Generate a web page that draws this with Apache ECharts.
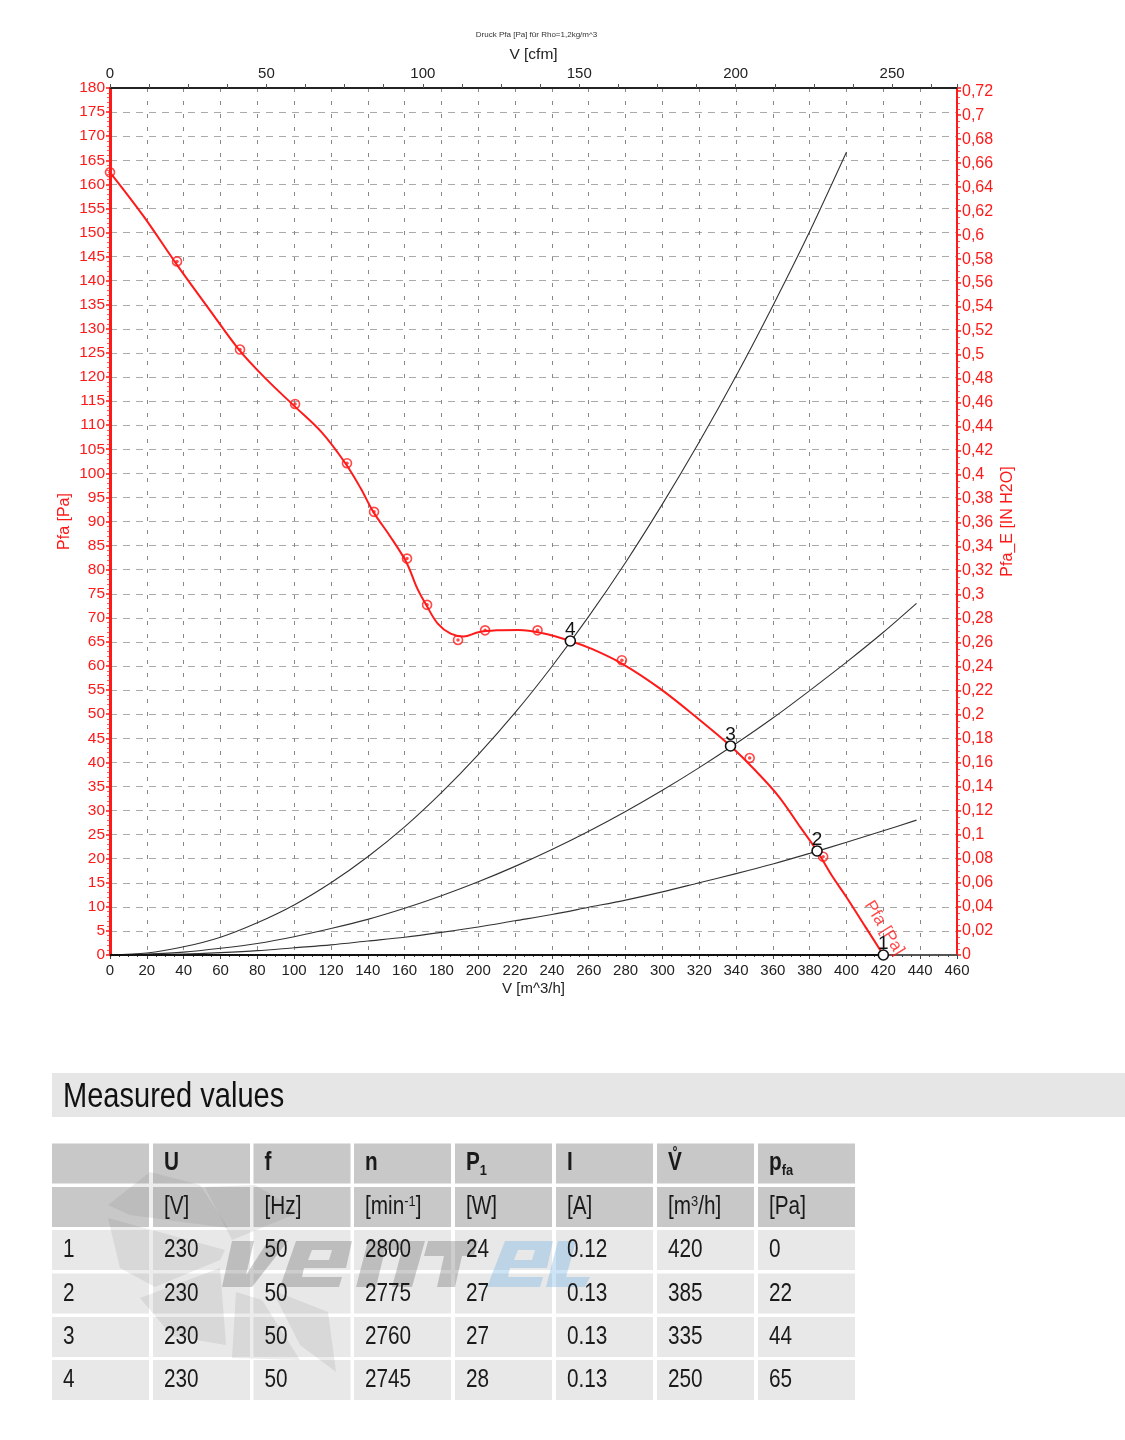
<!DOCTYPE html>
<html>
<head>
<meta charset="utf-8">
<title>Measured values</title>
<script src="https://cdn.jsdelivr.net/npm/echarts@6/dist/echarts.min.js"></script>
<style>
html, body { margin: 0; padding: 0; background: #fff; }
#main { width: 1125px; height: 1440px; }
</style>
</head>
<body>
<div id="main"></div>
<script>
// fan curve (V in m^3/h, Pfa in Pa)
const pfaCurve = [
  [0,162.5],[18,153.5],[36,143.5],[54,134],[70,125.7],[85,119.5],[100,114],[115,108.5],[128,102],
  [136,97],[143,92],[152,87],[161,81.5],[167,76],[172,72.5],[178,68.8],[185,66.7],[192,66.1],
  [200,67],[210,67.4],[222,67.5],[235,66.8],[250,65.2],[262,63.5],[278,60.5],[298,55.5],
  [318,49.5],[337,43.4],[350,38.5],[363,33],[375,26.5],[384,21.6],[392,16.5],[400,12],[410,6],[420,0]
];
const rawPoints = [
  [0,162.5],[36.4,144],[70.6,125.7],[100.5,114.4],[128.7,102.1],[143.4,92],[161.3,82.3],
  [172.2,72.7],[189,65.4],[203.7,67.4],[232.2,67.4],[278,61.2],[347.4,40.9],[387.3,20.4]
];
// system curves, sampled every 20 m^3/h
const sysX = [0,20,40,60,80,100,120,140,160,180,200,220,240,260,280,300,320,340,360,380,400,420,438];
const sysA = [0,0.4,1.7,3.7,6.7,10.4,15,20.4,26.6,33.7,41.6,50.3,59.9,70.3,81.5,93.6,106.5,120.2,134.8,150.2,166.7];
const sysB = [0,0.2,0.6,1.4,2.4,3.8,5.5,7.4,9.7,12.3,15.2,18.4,21.9,25.7,29.8,34.2,38.9,43.9,49.2,54.9,60.8,67,73];
const sysC = [0,0.1,0.2,0.5,0.9,1.5,2.1,2.9,3.7,4.7,5.8,7.1,8.4,9.9,11.4,13.1,15,16.9,18.9,21.1,23.4,25.8,28];
const freeBlow = [[0,0],[420,0]];
// numbered operating points as plotted
const opFlow = [420,384,337,250];
const opPfa = [0,21.6,43.4,65.2];
const opLabel = ['1','2','3','4'];

// table
const tableTitle = 'Measured values';
const headNames = [[], [['U']], [['f']], [['n']], [['P'],['1','sub']], [['I']], [['V\u030A']], [['p'],['fa','sub']]];
const headUnits = [[], [['[V]']], [['[Hz]']], [['[min'],['-1','sup'],[']']], [['[W]']], [['[A]']], [['[m'],['3','sup'],['/h]']], [['[Pa]']]];
const rowNo = ['1','2','3','4'];
const voltage = ['230','230','230','230'];
const freq = ['50','50','50','50'];
const speed = ['2800','2775','2760','2745'];
const power = ['24','27','27','28'];
const current = ['0.12','0.13','0.13','0.13'];
const flow = ['420','385','335','250'];
const pressure = ['0','22','44','65'];

const FONT = '"Liberation Sans", Arial, sans-serif';
const RED = '#ff1a1a';
const TEXT_SCALE = 0.83;
const colX = [52,153,253.5,354,455,556,657,758];
const colW = 97;
const rowY = [1143.5,1187,1230,1273.5,1317,1360];
const rowH = 40;

var myChart = echarts.init(document.getElementById('main'), null, { renderer: 'canvas' });

var measure = document.createElement('canvas').getContext('2d');

// one run of text, sub and superscripts get a smaller size
function textRun(x, y, parts, size, weight, out) {
  var cx = x;
  parts.forEach(function (p) {
    var s = p[1] ? size * 0.62 : size;
    var dy = p[1] === 'sub' ? 7.5 : (p[1] === 'sup' ? -6 : 0);
    var font = weight + ' ' + s + 'px ' + FONT;
    out.push({
      type: 'text', x: cx, y: y + dy, scaleX: TEXT_SCALE, z: 5,
      style: { text: p[0], fill: '#1a1a1a', font: font, verticalAlign: 'middle' }
    });
    measure.font = font;
    cx += measure.measureText(p[0].replace('\u030A', '')).width * TEXT_SCALE;
  });
}

function logoShape(points, fill) {
  return { type: 'polygon', z: 2, style: { fill: fill }, shape: { points: points } };
}

function buildTable() {
  var g = [];
  g.push({ type: 'rect', shape: { x: 52, y: 1073, width: 1073, height: 44 }, style: { fill: '#e6e6e6' }, z: 1 });
  g.push({
    type: 'text', x: 63, y: 1097, scaleX: TEXT_SCALE, z: 5,
    style: { text: tableTitle, fill: '#111', font: '35px ' + FONT, verticalAlign: 'middle' }
  });
  rowY.forEach(function (y, r) {
    colX.forEach(function (x) {
      g.push({ type: 'rect', shape: { x: x, y: y, width: colW, height: rowH }, style: { fill: r < 2 ? '#c8c8c8' : '#e8e8e8' }, z: 1 });
    });
  });

  // watermark, fan blades and logo
  var blades = [
    [[108,1205],[150,1172],[200,1185],[228,1228],[130,1215]],
    [[205,1187],[255,1185],[300,1212],[232,1240]],
    [[108,1218],[225,1250],[220,1260],[155,1287],[120,1268]],
    [[140,1298],[220,1268],[226,1345],[172,1336]],
    [[236,1292],[262,1300],[300,1360],[232,1358]],
    [[272,1290],[328,1312],[336,1372],[300,1345]]
  ];
  blades.forEach(function (b) {
    g.push({ type: 'polygon', shape: { points: b }, style: { fill: 'rgba(110,110,110,0.13)' }, z: 2 });
  });
  var grayLogo = 'rgba(100,100,100,0.32)';
  var blueLogo = 'rgba(90,165,225,0.3)';
  g.push(logoShape([[232,1241],[254,1241],[246,1275],[268,1241],[288,1241],[252,1287],[222,1287]], grayLogo));
  // the e outlines run back through the counter so it stays open
  g.push(logoShape([[296,1241],[352,1241],[346,1268],[304,1268],[302,1277],[342,1277],[339,1287],[280,1287],[296,1241],
    [312,1250],[308,1260],[329,1260],[332,1250],[312,1250]], grayLogo));
  g.push(logoShape([[368,1241],[425,1241],[412,1287],[392,1287],[402,1250],[385,1250],[376,1287],[356,1287]], grayLogo));
  g.push(logoShape([[428,1241],[478,1241],[474,1256],[462,1256],[455,1287],[437,1287],[444,1256],[424,1256]], grayLogo));
  g.push(logoShape([[505,1241],[553,1241],[547,1268],[510,1268],[508,1277],[543,1277],[540,1287],[487,1287],[505,1241],
    [518,1250],[514,1260],[532,1260],[535,1250],[518,1250]], blueLogo));
  g.push(logoShape([[558,1241],[576,1241],[566,1277],[590,1277],[585,1287],[546,1287]], blueLogo));

  headNames.forEach(function (parts, c) { textRun(colX[c] + 11, 1163.5, parts, 25, 'bold', g); });
  headUnits.forEach(function (parts, c) { textRun(colX[c] + 11, 1207.5, parts, 25, 'normal', g); });
  var cols = [rowNo, voltage, freq, speed, power, current, flow, pressure];
  cols.forEach(function (vals, c) {
    vals.forEach(function (v, r) {
      textRun(colX[c] + 11, rowY[r + 2] + 20.5, [[v]], 25, 'normal', g);
    });
  });
  g.push({
    type: 'text', x: 536.5, y: 35, z: 5,
    style: { text: 'Druck Pfa [Pa] f\u00fcr Rho=1,2kg/m^3', fill: '#333', font: '8px ' + FONT, align: 'center', verticalAlign: 'middle' }
  });
  return g;
}

function zip(xs, ys) {
  return ys.map(function (y, i) { return [xs[i], y]; });
}

function sysSeries(ys) {
  return {
    type: 'line', xAxisIndex: 0, yAxisIndex: 0, data: zip(sysX, ys), smooth: 0.3,
    showSymbol: false, silent: true, lineStyle: { color: '#333', width: 1.1 }, z: 3
  };
}

var option = {
  animation: false,
  backgroundColor: '#fff',
  textStyle: { fontFamily: FONT },
  grid: { left: 110, right: 168, top: 88, bottom: 485 },
  graphic: buildTable(),
  xAxis: [
    {
      type: 'value', position: 'bottom', min: 0, max: 460, interval: 20,
      name: 'V [m^3/h]', nameLocation: 'middle', nameGap: 26, nameMoveOverlap: false,
      nameTextStyle: { color: '#222', fontSize: 15 },
      axisLine: { onZero: false, lineStyle: { color: '#555', width: 2 } },
      axisTick: { show: true, length: 4, lineStyle: { color: '#444' } },
      minorTick: { show: true, splitNumber: 4, length: 2, lineStyle: { color: '#444' } },
      axisLabel: { color: '#222', fontSize: 15, margin: 8 },
      splitLine: { show: true, showMinLine: false, showMaxLine: false, lineStyle: { color: '#888', width: 1, type: [4, 9] } }
    },
    {
      type: 'value', position: 'top', min: 0, max: 270.75, interval: 50,
      name: 'V [cfm]', nameLocation: 'middle', nameGap: 25, nameMoveOverlap: false,
      nameTextStyle: { color: '#222', fontSize: 15.5 },
      axisLine: { onZero: false, lineStyle: { color: '#222', width: 2 } },
      axisTick: { show: true, length: 4, lineStyle: { color: '#555' } },
      minorTick: { show: true, splitNumber: 4, length: 4, lineStyle: { color: '#555' } },
      axisLabel: { color: '#222', fontSize: 15, margin: 7, showMaxLabel: false },
      splitLine: { show: false }
    }
  ],
  yAxis: [
    {
      type: 'value', position: 'left', min: 0, max: 180, interval: 5,
      name: 'Pfa [Pa]', nameLocation: 'middle', nameGap: 37, nameMoveOverlap: false,
      nameTextStyle: { color: RED, fontSize: 16 },
      axisLine: { show: true, onZero: false, lineStyle: { color: RED, width: 3 } },
      axisTick: { show: true, length: 4, lineStyle: { color: RED, width: 1.5 } },
      minorTick: { show: true, splitNumber: 5, length: 3, lineStyle: { color: RED, opacity: 0.7 } },
      axisLabel: { color: RED, fontSize: 15.5, margin: 5 },
      splitLine: { show: true, showMinLine: false, showMaxLine: false, lineStyle: { color: '#aaa', width: 1, type: [7, 6] } }
    },
    {
      type: 'value', position: 'right', min: 0, max: 0.7226, interval: 0.02,
      name: 'Pfa_E [IN H2O]', nameLocation: 'middle', nameGap: 43, nameRotate: 90, nameMoveOverlap: false,
      nameTextStyle: { color: RED, fontSize: 16 },
      axisLine: { show: true, onZero: false, lineStyle: { color: RED, width: 2 } },
      axisTick: { show: true, length: 4, lineStyle: { color: RED, width: 1.5 } },
      minorTick: { show: true, splitNumber: 4, length: 3, lineStyle: { color: RED, opacity: 0.7 } },
      axisLabel: {
        color: RED, fontSize: 16, margin: 5, showMaxLabel: false,
        formatter: function (v) { return String(v).replace('.', ','); }
      },
      splitLine: { show: false }
    }
  ],
  series: [
    sysSeries(sysA),
    sysSeries(sysB),
    sysSeries(sysC),
    {
      type: 'line', data: freeBlow, showSymbol: false, clip: false, silent: true,
      lineStyle: { color: '#111', width: 2 }, z: 3
    },
    {
      type: 'line', data: pfaCurve, smooth: 0.35, showSymbol: false, clip: false,
      lineStyle: { color: RED, width: 2 }, z: 4
    },
    {
      type: 'scatter', data: rawPoints, symbolSize: 9, clip: false, z: 5,
      itemStyle: { color: 'rgba(255,255,255,0)', borderColor: RED, borderWidth: 1.6 }
    },
    {
      type: 'scatter', data: rawPoints, symbolSize: 3.5, clip: false, z: 5,
      itemStyle: { color: RED }
    },
    {
      type: 'scatter', data: zip(opFlow, opPfa), symbolSize: 10, clip: false, z: 6,
      itemStyle: { color: '#fff', borderColor: '#111', borderWidth: 1.6, opacity: 1 },
      label: {
        show: true, position: 'top', distance: -4, color: '#111', fontSize: 19,
        formatter: function (p) { return opLabel[p.dataIndex]; }
      }
    },
    {
      // curve name written along the line
      type: 'scatter', data: [[420.5, 5.6]], symbolSize: 0, clip: false, z: 6, silent: true,
      label: {
        show: true, position: 'inside', color: RED, fontSize: 17, rotate: -58,
        formatter: 'Pfa [Pa]'
      }
    }
  ]
};

myChart.setOption(option);
</script>
</body>
</html>
